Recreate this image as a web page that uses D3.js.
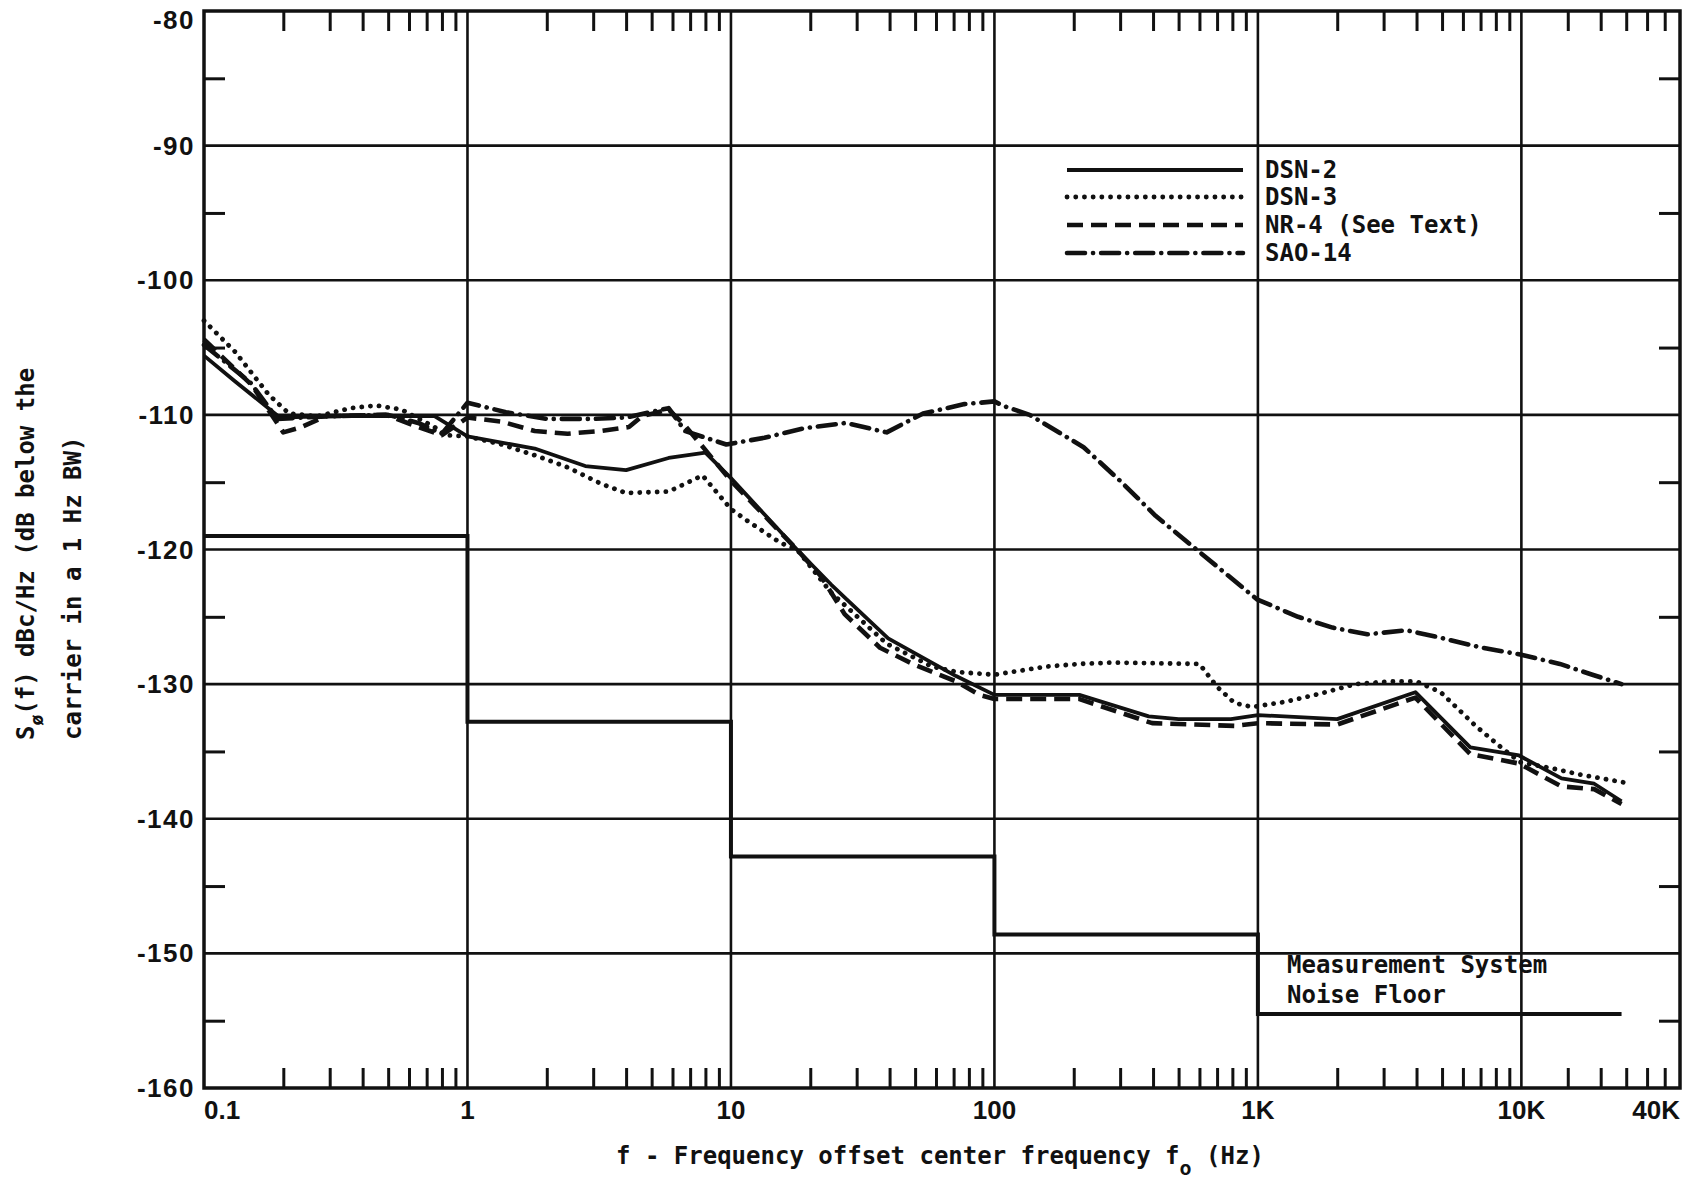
<!DOCTYPE html>
<html><head><meta charset="utf-8">
<script src="https://cdn.jsdelivr.net/npm/d3@7"></script>
<style>body{margin:0;background:#fff}</style>
</head><body><svg id="c" width="1698" height="1180" xmlns="http://www.w3.org/2000/svg"></svg>
<script>
// ---- data ----
const dsn2Freq  = [0.1, 0.131, 0.194, 0.3, 0.56, 0.75, 1, 1.8, 2.8, 4, 5.8, 8, 10, 17.8, 24, 27.5, 39.5, 71.5, 100, 210, 385, 500, 790, 1000, 2000, 3960, 6400, 9800, 14200, 18900, 24000];
const dsn2Level = [-105.6, -107.5, -110.2, -110.1, -110.1, -110.1, -111.6, -112.5, -113.8, -114.1, -113.2, -112.8, -114.7, -120, -122.6, -123.7, -126.6, -129.4, -130.8, -130.8, -132.4, -132.6, -132.6, -132.3, -132.6, -130.6, -134.7, -135.3, -137.0, -137.4, -138.7];

const dsn3Freq  = [0.1, 0.131, 0.176, 0.21, 0.27, 0.36, 0.45, 0.56, 0.75, 0.82, 1, 1.35, 1.8, 2.4, 3.2, 4, 5.8, 7.8, 10, 11.6, 15.4, 17.8, 24, 39, 58, 72, 100, 157, 209, 280, 600, 700, 815, 950, 1280, 1730, 2340, 3160, 4000, 4940, 6700, 8500, 9900, 13400, 16500, 24500];
const dsn3Level = [-103.0, -105.3, -108.5, -109.9, -110.1, -109.5, -109.3, -109.6, -110.9, -111.5, -111.6, -112.2, -113.0, -113.9, -115.1, -115.8, -115.7, -114.5, -117.0, -117.9, -119.5, -120.0, -123.2, -127.0, -128.7, -129.1, -129.3, -128.7, -128.5, -128.4, -128.5, -130.2, -131.4, -131.7, -131.3, -130.7, -130.0, -129.8, -129.8, -130.6, -133.1, -134.8, -135.8, -136.3, -136.7, -137.3];

const nr4Freq  = [0.1, 0.152, 0.2, 0.235, 0.29, 0.49, 0.65, 0.8, 1, 1.35, 1.8, 2.4, 3.2, 4.1, 4.6, 5.8, 6.7, 10, 17.8, 22, 27, 36.8, 49, 71.6, 87.6, 100, 209, 397, 815, 1000, 2000, 3960, 6400, 9800, 14200, 18900, 24000];
const nr4Level = [-104.4, -107.8, -111.3, -110.9, -110.1, -110.0, -110.9, -111.5, -110.2, -110.5, -111.2, -111.4, -111.2, -110.9, -110.1, -109.6, -110.8, -114.9, -120.0, -122.0, -124.8, -127.3, -128.5, -129.8, -130.8, -131.1, -131.1, -132.9, -133.1, -132.9, -133.0, -131.0, -135.2, -135.9, -137.6, -137.8, -138.9];

const sao14Freq  = [0.1, 0.15, 0.19, 0.3, 0.5, 0.65, 0.8, 1, 1.4, 2, 3, 4, 5.8, 6.7, 9.6, 13.4, 18.9, 27.2, 39, 53.6, 77, 100, 107, 136, 156, 218, 300, 409, 576, 756, 991, 1420, 1920, 2600, 3670, 4800, 7100, 9900, 14000, 18600, 24000];
const sao14Level = [-104.8, -107.6, -110.3, -110.1, -110.0, -110.6, -111.4, -109.1, -109.8, -110.3, -110.3, -110.2, -109.5, -111.2, -112.2, -111.7, -111.0, -110.6, -111.3, -109.9, -109.2, -109.0, -109.3, -110.0, -110.7, -112.4, -114.9, -117.5, -119.9, -121.8, -123.7, -125.0, -125.8, -126.3, -126.0, -126.5, -127.3, -127.8, -128.5, -129.3, -130.0];

const noiseFreq  = [0.1, 1, 10, 100, 1000, 24000];
const noiseLevel = [-119.0, -132.8, -142.8, -148.6, -154.5, -154.5];

const xMajor = [0.1, 1, 10, 100, 1000, 10000, 40000];
const xMajorLabels = ["0.1", "1", "10", "100", "1K", "10K", "40K"];
const yMajor = [-80, -90, -100, -110, -120, -130, -140, -150, -160];
const yMajorLabels = ["-80", "-90", "-100", "-110", "-120", "-130", "-140", "-150", "-160"];
const yMinor = [-85, -95, -105, -115, -125, -135, -145, -155];
const xMinor = [0.2,0.3,0.4,0.5,0.6,0.7,0.8,0.9, 2,3,4,5,6,7,8,9, 20,30,40,50,60,70,80,90, 200,300,400,500,600,700,800,900, 2000,3000,4000,5000,6000,7000,8000,9000, 15000,20000,25000,30000,35000];
const legendLabels = ["DSN-2", "DSN-3", "NR-4 (See Text)", "SAO-14"];

// ---- drawing ----
const svg = d3.select("#c");
const L = 204, R = 1680, T = 11, B = 1088;
const x = d3.scaleLog().domain([0.1, 40000]).range([L, R]);
const y = d3.scaleLinear().domain([-160, -80]).range([B, T]);

const ink = "#111";
const labelFont = "'Liberation Sans', Arial, sans-serif";
const monoFont = "'DejaVu Sans Mono', 'Liberation Mono', monospace";

// grid
const g = svg.append("g");
g.selectAll(".hg").data(yMajor.filter(v => v > -160 && v < -80)).enter().append("line")
  .attr("x1", L).attr("x2", R).attr("y1", d => y(d)).attr("y2", d => y(d))
  .attr("stroke", ink).attr("stroke-width", 2.6);
g.selectAll(".vg").data([1, 10, 100, 1000, 10000]).enter().append("line")
  .attr("x1", d => x(d)).attr("x2", d => x(d)).attr("y1", T).attr("y2", B)
  .attr("stroke", ink).attr("stroke-width", 2.6);

// minor ticks via axes
function styleAxis(sel) {
  sel.select(".domain").remove();
  sel.selectAll(".tick line").attr("stroke", ink).attr("stroke-width", 3);
  sel.selectAll(".tick text").remove();
}
svg.append("g").attr("transform", `translate(0,${B})`)
  .call(d3.axisBottom(x).tickValues(xMinor).tickSize(-20).tickFormat("")).call(styleAxis);
svg.append("g").attr("transform", `translate(0,${T})`)
  .call(d3.axisTop(x).tickValues(xMinor).tickSize(-20).tickFormat("")).call(styleAxis);
svg.append("g").attr("transform", `translate(${L},0)`)
  .call(d3.axisLeft(y).tickValues(yMinor).tickSize(-21).tickFormat("")).call(styleAxis);
svg.append("g").attr("transform", `translate(${R},0)`)
  .call(d3.axisRight(y).tickValues(yMinor).tickSize(-21).tickFormat("")).call(styleAxis);

// frame
svg.append("rect").attr("x", L).attr("y", T).attr("width", R - L).attr("height", B - T)
  .attr("fill", "none").attr("stroke", ink).attr("stroke-width", 3.5);

// tick labels
svg.selectAll(".yl").data(yMajor).enter().append("text")
  .attr("x", 195).attr("y", d => Math.max(y(d), 20) + 9)
  .attr("text-anchor", "end").attr("font-family", labelFont).attr("font-weight", "bold")
  .attr("font-size", 26).attr("letter-spacing", 1.5).attr("fill", ink)
  .text((d, i) => yMajorLabels[i]);
svg.selectAll(".xl").data(xMajor).enter().append("text")
  .attr("x", d => x(d)).attr("y", 1119)
  .attr("text-anchor", (d, i) => i === 0 ? "start" : (i === xMajor.length - 1 ? "end" : "middle"))
  .attr("font-family", labelFont).attr("font-weight", "bold")
  .attr("font-size", 26).attr("fill", ink)
  .text((d, i) => xMajorLabels[i]);

// series
const line = d3.line().x(d => x(d[0])).y(d => y(d[1]));
const zip = (a, b) => a.map((v, i) => [v, b[i]]);
const styles = [
  {w: 3.8, dash: null, cap: "butt"},
  {w: 4.8, dash: "0.1 8.6", cap: "round"},
  {w: 4.6, dash: "16 8", cap: "butt"},
  {w: 4.6, dash: "18 8 0.1 8", cap: "round"}
];
const seriesData = [zip(dsn2Freq, dsn2Level), zip(dsn3Freq, dsn3Level), zip(nr4Freq, nr4Level), zip(sao14Freq, sao14Level)];
seriesData.forEach((s, i) => {
  const p = svg.append("path").attr("d", line(s)).attr("fill", "none").attr("stroke", ink)
    .attr("stroke-width", styles[i].w).attr("stroke-linecap", styles[i].cap).attr("stroke-linejoin", "round");
  if (styles[i].dash) p.attr("stroke-dasharray", styles[i].dash);
});

// noise floor
svg.append("path").attr("d", d3.line().x(d => x(d[0])).y(d => y(d[1])).curve(d3.curveStepAfter)(zip(noiseFreq, noiseLevel)))
  .attr("fill", "none").attr("stroke", ink).attr("stroke-width", 4);

svg.append("text").attr("x", 1287).attr("y", 973).attr("font-family", monoFont).attr("font-weight", "bold")
  .attr("font-size", 24).attr("fill", ink).text("Measurement System");
svg.append("text").attr("x", 1287).attr("y", 1003).attr("font-family", monoFont).attr("font-weight", "bold")
  .attr("font-size", 24).attr("fill", ink).text("Noise Floor");

// legend
const legY = [170, 197, 225, 253];
legendLabels.forEach((lab, i) => {
  const l = svg.append("line").attr("x1", 1067).attr("x2", 1243).attr("y1", legY[i]).attr("y2", legY[i])
    .attr("stroke", ink).attr("stroke-width", styles[i].w).attr("stroke-linecap", styles[i].cap);
  if (styles[i].dash) l.attr("stroke-dasharray", styles[i].dash);
  svg.append("text").attr("x", 1265).attr("y", legY[i] + 8).attr("font-family", monoFont).attr("font-weight", "bold")
    .attr("font-size", 24).attr("fill", ink).text(lab);
});

// axis titles
const xt = svg.append("text").attr("x", 616).attr("y", 1164).attr("font-family", monoFont).attr("font-weight", "bold")
  .attr("font-size", 24).attr("fill", ink);
xt.append("tspan").text("f - Frequency offset center frequency f");
xt.append("tspan").attr("dy", 11).attr("font-size", 20).text("o");
xt.append("tspan").attr("dy", -11).text(" (Hz)");

const yt1 = svg.append("text").attr("transform", "translate(34,740) rotate(-90)")
  .attr("font-family", monoFont).attr("font-weight", "bold").attr("font-size", 24).attr("fill", ink);
yt1.append("tspan").text("S");
yt1.append("tspan").attr("dy", 9).attr("font-size", 18).text("\u00f8");
yt1.append("tspan").attr("dy", -9).text("(f) dBc/Hz (dB below the");
svg.append("text").attr("transform", "translate(81,740) rotate(-90)")
  .attr("font-family", monoFont).attr("font-weight", "bold").attr("font-size", 24).attr("fill", ink)
  .text("carrier in a 1 Hz BW)");
</script></body></html>
